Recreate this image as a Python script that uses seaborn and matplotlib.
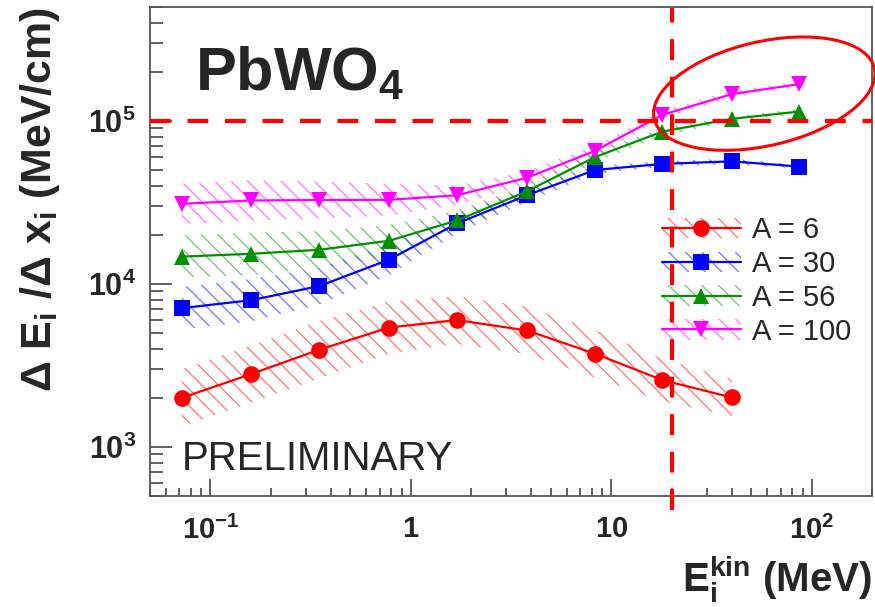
import matplotlib
matplotlib.use("Agg")
import matplotlib.pyplot as plt
import matplotlib.ticker as mticker
from matplotlib.patches import Ellipse, Patch
from matplotlib.lines import Line2D
from matplotlib.transforms import IdentityTransform
import numpy as np
import pandas as pd
import seaborn as sns

#########################
#         DATA          #
#########################
e_kin = [0.072, 0.16, 0.35, 0.78, 1.7, 3.8, 8.3, 18, 40, 86]  # MeV

dedx_a6 = [2000, 2800, 3950, 5400, 6000, 5180, 3730, 2570, 2010]
dedx_a30 = [7100, 7950, 9700, 14100, 23500, 35000, 50000, 54500, 56500, 52500]
dedx_a56 = [14700, 15300, 16200, 18400, 24500, 37000, 60000, 86000, 103000, 114000]
dedx_a100 = [31000, 32500, 32700, 32800, 35000, 44800, 65500, 109000, 146000, 168000]

# multiplicative half-width of the hatched uncertainty band
band_a6 = [1.5, 1.5, 1.5, 1.45, 1.4, 1.4, 1.4, 1.35, 1.3]
band_a30 = [1.35, 1.35, 1.3, 1.25, 1.15, 1.1, 1.06, 1.04, 1.04, 1.03]
band_a56 = [1.35, 1.35, 1.3, 1.25, 1.15, 1.1, 1.08, 1.06, 1.04, 1.04]
band_a100 = [1.33, 1.33, 1.3, 1.25, 1.15, 1.1, 1.08, 1.06, 1.05, 1.04]

labels = ["A = 6", "A = 30", "A = 56", "A = 100"]
colors = ["#ff0000", "#0000ff", "#009000", "#ff00ff"]
markers = ["o", "s", "^", "v"]

threshold_e = 20      # MeV, vertical dashed line
threshold_dedx = 1e5  # MeV/cm, horizontal dashed line

xtick_vals = [0.1, 1, 10, 100]
xtick_labels = [r"$\mathbf{10^{-1}}$", r"$\mathbf{1}$", r"$\mathbf{10}$", r"$\mathbf{10^{2}}$"]
ytick_vals = [1e3, 1e4, 1e5]
ytick_labels = [r"$\mathbf{10^{3}}$", r"$\mathbf{10^{4}}$", r"$\mathbf{10^{5}}$"]

#########################
#        STYLE          #
#########################
sns.set_theme(style="ticks")
plt.rcParams["font.family"] = ["Liberation Sans", "DejaVu Sans"]
plt.rcParams["mathtext.fontset"] = "custom"
plt.rcParams["mathtext.rm"] = "Liberation Sans:bold"
plt.rcParams["mathtext.bf"] = "Liberation Sans:bold"
plt.rcParams["mathtext.it"] = "Liberation Sans:bold"
plt.rcParams["hatch.linewidth"] = 1.0

series = [dedx_a6, dedx_a30, dedx_a56, dedx_a100]
bands = [band_a6, band_a30, band_a56, band_a100]

rows = []
for lab, vals in zip(labels, series):
    for e, v in zip(e_kin, vals):
        rows.append({"E": e, "dEdx": v, "A": lab})
df = pd.DataFrame(rows)

fig = plt.figure(figsize=(8.75, 6.07), dpi=100)
ax = fig.add_axes([0.1714, 0.1829, 0.8252, 0.8056])
ax.set_xscale("log")
ax.set_yscale("log")

# hatched bands
for vals, band, col in zip(series, bands, colors):
    x = np.array(e_kin[:len(vals)])
    v = np.array(vals, dtype=float)
    b = np.array(band)
    ax.fill_between(x, v / b, v * b, facecolor="none", edgecolor=col,
                    hatch="\\\\", linewidth=0, alpha=0.5, zorder=1)

sns.lineplot(data=df, x="E", y="dEdx", hue="A", style="A",
             palette=dict(zip(labels, colors)), markers=dict(zip(labels, markers)),
             dashes=False, markersize=12, markeredgewidth=0, linewidth=1.6,
             legend=False, ax=ax, zorder=3)

ax.set_xlim(0.05, 200)
ax.set_ylim(500, 5e5)

# threshold lines
ax.axhline(threshold_dedx, color="#ff0000", lw=3, ls=(0, (5, 4)), zorder=6)
ax.vlines(threshold_e, 410, 4.9e5, color="#ff0000", lw=3, ls=(0, (5, 4)),
          zorder=6, clip_on=False)

# ticks
ax.set_xticks(xtick_vals)
ax.set_xticklabels(xtick_labels)
ax.set_yticks(ytick_vals)
ax.set_yticklabels(ytick_labels)
ax.xaxis.set_minor_locator(mticker.LogLocator(base=10, subs=np.arange(2, 10), numticks=20))
ax.yaxis.set_minor_locator(mticker.LogLocator(base=10, subs=np.arange(2, 10), numticks=20))
ax.xaxis.set_minor_formatter(mticker.NullFormatter())
ax.yaxis.set_minor_formatter(mticker.NullFormatter())
ax.tick_params(axis="both", which="both", direction="in", color="#444444", width=1.2,
               top=False, right=False)
ax.tick_params(axis="x", which="major", length=12, labelsize=21, pad=14)
ax.tick_params(axis="x", which="minor", length=6)
ax.tick_params(axis="y", which="major", length=16, labelsize=22, pad=10)
ax.tick_params(axis="y", which="minor", length=9)
for s in ax.spines.values():
    s.set_color("#555555")
    s.set_linewidth(1.3)

# axis labels
ax.set_ylabel(r"$\Delta$ $\mathbf{E_i}$ /$\Delta$ $\mathbf{x_i}$ (MeV/cm)",
              fontsize=31, fontweight="bold", loc="top")
ax.yaxis.set_label_coords(-0.122, 1.0)
ax.set_xlabel(r"$\mathbf{E_i^{kin}}$ (MeV)", fontsize=29, fontweight="bold", loc="right")
ax.xaxis.set_label_coords(1.0, -0.118)

# texts
ax.text(0.062, 0.83, r"PbWO$_\mathbf{4}$", transform=ax.transAxes, fontsize=44,
        fontweight="bold", va="baseline", ha="left")
ax.text(0.044, 0.053, "PRELIMINARY", transform=ax.transAxes, fontsize=29,
        fontweight="light", va="baseline", ha="left")

# legend
handles = []
for col, mk in zip(colors, markers):
    p = Patch(facecolor="none", edgecolor=col, hatch="\\\\", linewidth=0, alpha=0.5)
    l = Line2D([], [], color=col, marker=mk, markersize=12, markeredgewidth=0, lw=1.6)
    handles.append((p, l))
leg = ax.legend(handles, labels, loc="upper right", bbox_to_anchor=(1.0, 0.614),
                fontsize=21, frameon=True, framealpha=1, edgecolor="white",
                handlelength=2.7, labelspacing=0.2, handletextpad=0.4,
                borderpad=0.2, fancybox=False)
leg.set_zorder(5)

# highlight ellipse
fig.canvas.draw()
cx, cy = ax.transData.transform((58, 1.47e5))
ell = Ellipse((cx, cy), 226, 104, angle=13, transform=IdentityTransform(),
              facecolor="none", edgecolor="#ff0000", lw=2.2, clip_on=False, zorder=7)
fig.add_artist(ell)

fig.savefig("out.png", dpi=100)
